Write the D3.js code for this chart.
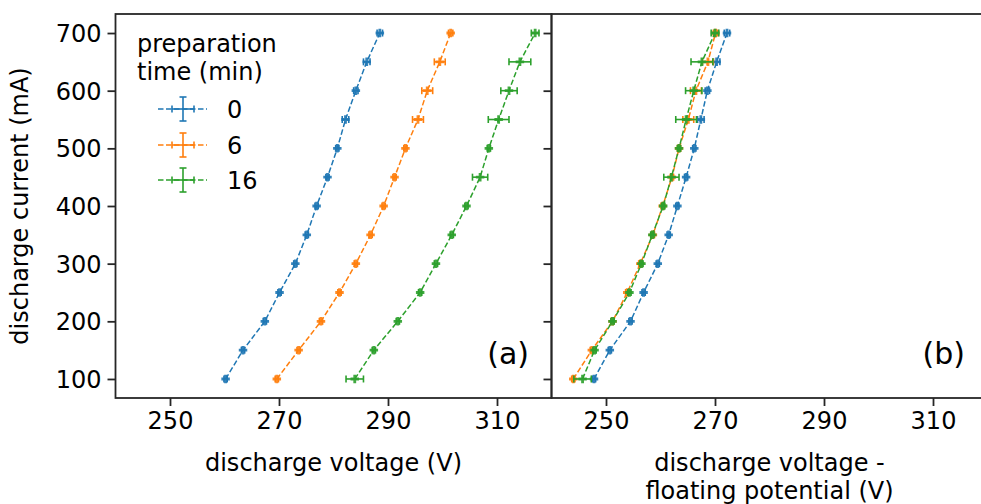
<!DOCTYPE html>
<html>
<head>
<meta charset="utf-8">
<script src="https://cdn.jsdelivr.net/npm/d3@7"></script>
<style>
  body { margin: 0; background: #fff; }
  text { font-family: "DejaVu Sans", sans-serif; fill: #000; }
</style>
</head>
<body>
<div id="chart"></div>
<script>

// discharge current (mA)
var current = [100, 150, 200, 250, 300, 350, 400, 450, 500, 550, 600, 650, 700];

// preparation time (min)
var prepTimes = ["0", "6", "16"];

// (a) discharge voltage (V)
var volt0  = [260.2, 263.4, 267.4, 270.1, 273.0, 275.1, 276.9, 278.9, 280.7, 282.2, 284.1, 286.1, 288.5];
var volt6  = [269.6, 273.6, 277.7, 281.1, 284.1, 286.8, 289.2, 291.2, 293.2, 295.5, 297.2, 299.5, 301.5];
var volt16 = [283.9, 287.4, 291.8, 295.9, 298.8, 301.7, 304.4, 306.9, 308.5, 310.3, 312.2, 314.2, 317.0];

// (b) discharge voltage - floating potential (V)
var diff0  = [247.8, 250.7, 254.5, 256.9, 259.5, 261.5, 263.1, 264.7, 266.2, 267.4, 268.6, 270.3, 272.2];
var diff6  = [244.0, 247.4, 251.2, 253.9, 256.3, 258.6, 260.4, 262.1, 263.4, 265.1, 266.5, 268.7, 270.1];
var diff16 = [245.7, 247.9, 251.2, 254.3, 256.5, 258.5, 260.5, 262.0, 263.4, 264.7, 266.1, 267.6, 270.0];

// x errors (V)
var err0  = [0.3, 0.3, 0.3, 0.3, 0.3, 0.3, 0.3, 0.3, 0.3, 0.6, 0.4, 0.6, 0.5];
var err6  = [0.3, 0.3, 0.3, 0.3, 0.3, 0.3, 0.3, 0.3, 0.3, 1.0, 1.0, 1.0, 0.4];
var err16 = [1.6, 0.3, 0.3, 0.3, 0.3, 0.3, 0.3, 1.4, 0.3, 1.9, 1.5, 2.0, 0.7];

var xTicks = [250, 270, 290, 310];
var yTicks = [100, 200, 300, 400, 500, 600, 700];

function init(){

	var w = 981;
	var h = 504;
	var colors = ["#1f77b4", "#ff7f0e", "#2ca02c"];
	var axisCol = "#262626";

	var top = 14, bottom = 398;
	var left = 115.5, mid = 551.5, right = 987.5;

	var yScale = d3.scaleLinear()
					.domain([67, 733])
					.range([bottom, top]);

	var xScaleA = d3.scaleLinear()
					.domain([240, 320])
					.range([left, mid]);

	var xScaleB = d3.scaleLinear()
					.domain([240, 320])
					.range([mid, right]);

	var svg = d3.select("#chart")
				.append("svg")
				.attr("width", w)
				.attr("height", h);

	var panels = [
		{ x: xScaleA, series: [volt0, volt6, volt16], label: "(a)", showY: true },
		{ x: xScaleB, series: [diff0, diff6, diff16], label: "(b)", showY: false }
	];
	var errs = [err0, err6, err16];

	panels.forEach(function(p){
		var g = svg.append("g");
		var x0 = p.x.range()[0], x1 = p.x.range()[1];

		// x axis
		var xAxis = d3.axisBottom(p.x)
					.tickValues(xTicks)
					.tickSize(8)
					.tickPadding(6);
		var gx = g.append("g")
			.attr("transform", "translate(0," + bottom + ")")
			.call(xAxis);
		gx.select(".domain").remove();
		gx.selectAll("line").attr("stroke", axisCol).attr("stroke-width", 1.8);
		gx.selectAll("text").style("font-size", "24px").attr("dy", "0.71em");

		// y axis
		var yAxis = d3.axisLeft(yScale)
					.tickValues(yTicks)
					.tickSize(8)
					.tickPadding(6);
		if (!p.showY) { yAxis.tickFormat(""); }
		var gy = g.append("g")
			.attr("transform", "translate(" + x0 + ",0)")
			.call(yAxis);
		gy.select(".domain").remove();
		gy.selectAll("line").attr("stroke", axisCol).attr("stroke-width", 1.8);
		gy.selectAll("text").style("font-size", "24px").attr("dy", "0.36em");

		// frame
		g.append("rect")
			.attr("x", x0).attr("y", top)
			.attr("width", x1 - x0).attr("height", bottom - top)
			.attr("fill", "none")
			.attr("stroke", axisCol)
			.attr("stroke-width", 1.8);

		var marks = g.append("g");

		p.series.forEach(function(vals, k){
			var col = colors[k];
			var pts = vals.map(function(v, i){ return [v, current[i], errs[k][i]]; });

			var line = d3.line()
						.x(function(d){ return p.x(d[0]); })
						.y(function(d){ return yScale(d[1]); });

			marks.append("path")
				.datum(pts)
				.attr("d", line)
				.attr("fill", "none")
				.attr("stroke", col)
				.attr("stroke-width", 1.5)
				.attr("stroke-dasharray", "5.5,2.5");

			// error bars
			var eb = marks.selectAll(null)
				.data(pts)
				.enter()
				.append("g")
				.attr("stroke", col)
				.attr("stroke-width", 1.6);
			eb.append("line")
				.attr("x1", function(d){ return p.x(d[0] - d[2]); })
				.attr("x2", function(d){ return p.x(d[0] + d[2]); })
				.attr("y1", function(d){ return yScale(d[1]); })
				.attr("y2", function(d){ return yScale(d[1]); });
			[-1, 1].forEach(function(s){
				eb.append("line")
					.attr("x1", function(d){ return p.x(d[0] + s * d[2]); })
					.attr("x2", function(d){ return p.x(d[0] + s * d[2]); })
					.attr("y1", function(d){ return yScale(d[1]) - 3.5; })
					.attr("y2", function(d){ return yScale(d[1]) + 3.5; });
			});

			marks.selectAll(null)
				.data(pts)
				.enter()
				.append("path")
				.attr("d", d3.symbol().type(d3.symbolCross).size(40))
				.attr("transform", function(d){
					return "translate(" + p.x(d[0]) + "," + yScale(d[1]) + ")";
				})
				.attr("fill", col)
				.attr("fill-opacity", 0.9);
		});

		g.append("text")
			.attr("x", x1 - 22.5)
			.attr("y", 364)
			.attr("text-anchor", "end")
			.style("font-size", "30px")
			.text(p.label);
	});

	// axis labels
	svg.append("text")
		.attr("transform", "translate(28," + ((top + bottom) / 2) + ") rotate(-90)")
		.attr("text-anchor", "middle")
		.style("font-size", "24px")
		.text("discharge current (mA)");

	svg.append("text")
		.attr("x", (left + mid) / 2)
		.attr("y", 471)
		.attr("text-anchor", "middle")
		.style("font-size", "24px")
		.text("discharge voltage (V)");

	svg.append("text")
		.attr("x", (mid + right) / 2)
		.attr("y", 471)
		.attr("text-anchor", "middle")
		.style("font-size", "24px")
		.text("discharge voltage -");

	svg.append("text")
		.attr("x", (mid + right) / 2)
		.attr("y", 499)
		.attr("text-anchor", "middle")
		.style("font-size", "24px")
		.text("floating potential (V)");

	// legend
	var leg = svg.append("g");
	leg.append("text").attr("x", 137).attr("y", 52).style("font-size", "24px").text("preparation");
	leg.append("text").attr("x", 137).attr("y", 80).style("font-size", "24px").text("time (min)");

	var legY = [109, 145, 180];
	prepTimes.forEach(function(t, k){
		var cy = legY[k];
		var col = colors[k];
		var hg = leg.append("g").attr("stroke", col).attr("stroke-width", 1.6);
		hg.append("line").attr("x1", 158).attr("x2", 207).attr("y1", cy).attr("y2", cy)
			.attr("stroke-dasharray", "5.5,2.5");
		hg.append("line").attr("x1", 172).attr("x2", 194).attr("y1", cy).attr("y2", cy);
		hg.append("line").attr("x1", 172).attr("x2", 172).attr("y1", cy - 3.5).attr("y2", cy + 3.5);
		hg.append("line").attr("x1", 194).attr("x2", 194).attr("y1", cy - 3.5).attr("y2", cy + 3.5);
		hg.append("line").attr("x1", 183).attr("x2", 183).attr("y1", cy - 12).attr("y2", cy + 12);
		hg.append("line").attr("x1", 179.5).attr("x2", 186.5).attr("y1", cy - 12).attr("y2", cy - 12);
		hg.append("line").attr("x1", 179.5).attr("x2", 186.5).attr("y1", cy + 12).attr("y2", cy + 12);
		leg.append("text")
			.attr("x", 227)
			.attr("y", cy + 9)
			.style("font-size", "24px")
			.text(t);
	});
}

window.onload = init;
</script>
</body>
</html>
